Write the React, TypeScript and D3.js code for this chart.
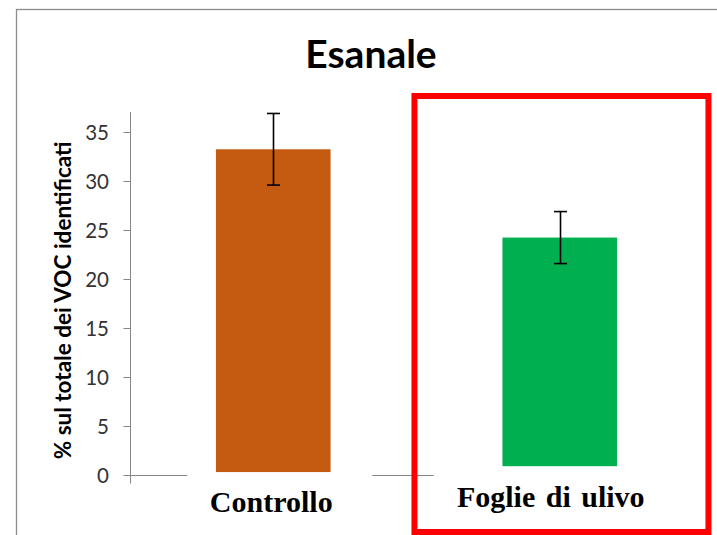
import React from "react";
import * as d3 from "d3";

const title = "Esanale";
const yAxisLabel = "% sul totale dei VOC identificati";
const categories = ["Controllo", "Foglie di ulivo"];
const values = [33.2, 24.2];
const errors = [3.65, 2.65];
const barBase = [0.3, 0.9];
const barColors = ["#C55A11", "#00B050"];
const yTicks = [0, 5, 10, 15, 20, 25, 30, 35];
const yMax = 37;

export default function App() {
  const W = 717;
  const H = 535;
  const x = d3
    .scaleBand<string>()
    .domain(categories)
    .range([130, 703])
    .paddingInner(0.6)
    .paddingOuter(0.3);
  const y = d3.scaleLinear().domain([0, yMax]).range([475, 112]);
  const bw = x.bandwidth();
  const axisX = x.range()[0] + 0.5;
  const y0 = Math.round(y(0)) + 0.5;
  const sans = "Lato, 'Open Sans', sans-serif";
  const serif = "'Liberation Serif', 'Times New Roman', serif";
  const labelDx = [-2, -9];
  const labelDy = [37, 32];

  const c0 = (x(categories[0]) as number) + bw / 2;
  const c1 = (x(categories[1]) as number) + bw / 2;

  return (
    <svg
      width={W}
      height={H}
      style={{ position: "absolute", left: 0, top: 0, background: "#fff" }}
    >
      {/* chart border */}
      <rect x={16.5} y={9.5} width={760} height={600} fill="#fff" stroke="#8c8c8c" strokeWidth={1.3} />

      {/* title */}
      <text x={371} y={68} textAnchor="middle" fontFamily={sans} fontWeight={700} fontSize={39} fill="#000">
        {title}
      </text>

      {/* y axis label */}
      <text
        transform={`translate(71,${y(17.8)}) rotate(-90)`}
        textAnchor="middle"
        fontFamily={sans}
        fontWeight={700}
        fontSize={22.5}
        fill="#000"
      >
        {yAxisLabel}
      </text>

      {/* y axis */}
      <line x1={axisX} x2={axisX} y1={y(yMax)} y2={y0 + 8} stroke="#868686" strokeWidth={1} />
      {yTicks.map((t) => {
        const ty = Math.round(y(t)) + 0.5;
        return (
          <g key={t}>
            <line x1={axisX - 7} x2={axisX} y1={ty} y2={ty} stroke="#868686" strokeWidth={1} />
            <text
              x={109}
              y={ty + 7.3}
              textAnchor="end"
              fontFamily={sans}
              fontSize={20.5}
              fill="#333"
            >
              {t}
            </text>
          </g>
        );
      })}

      {/* x axis */}
      <line x1={axisX} x2={x.range()[1]} y1={y0} y2={y0} stroke="#868686" strokeWidth={1} />
      {/* white label boxes covering the axis */}
      <rect x={c0 - 86} y={y0 - 2} width={185} height={50} fill="#fff" />
      <rect x={c1 - 126} y={y0 - 2} width={300} height={50} fill="#fff" />

      {/* bars */}
      {categories.map((c, i) => (
        <rect
          key={c}
          x={x(c)}
          y={y(values[i])}
          width={bw}
          height={y(barBase[i]) - y(values[i])}
          fill={barColors[i]}
        />
      ))}

      {/* error bars */}
      {categories.map((c, i) => {
        const cx = Math.round((x(c) as number) + bw / 2) + 0.5;
        const yt = y(values[i] + errors[i]);
        const yb = y(values[i] - errors[i]);
        return (
          <g key={c} stroke="#000" strokeWidth={1.6}>
            <line x1={cx} x2={cx} y1={yt} y2={yb} />
            <line x1={cx - 6.5} x2={cx + 6.5} y1={yt} y2={yt} />
            <line x1={cx - 6.5} x2={cx + 6.5} y1={yb} y2={yb} />
          </g>
        );
      })}

      {/* category labels */}
      {categories.map((c, i) => (
        <text
          key={c}
          x={(x(c) as number) + bw / 2 + labelDx[i]}
          y={y(0) + labelDy[i]}
          textAnchor="middle"
          fontFamily={serif}
          fontWeight={700}
          fontSize={30}
          wordSpacing={i === 1 ? 3 : 0}
          fill="#000"
        >
          {c}
        </text>
      ))}

      {/* highlight box */}
      <rect
        x={(x(categories[1]) as number) - 88}
        y={96}
        width={294}
        height={436}
        fill="none"
        stroke="#FF0000"
        strokeWidth={6}
      />
    </svg>
  );
}
